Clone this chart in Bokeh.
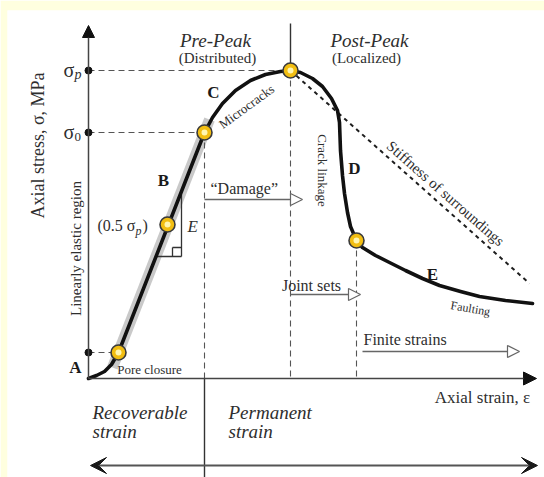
import math
from bokeh.plotting import figure
from bokeh.models import Range1d, Arrow, NormalHead, VeeHead
from bokeh.core.properties import value
from bokeh.embed import file_html
from bokeh.resources import INLINE

# ---- data (strain, stress in diagram units; origin at axes crossing) ----
curve_strain = [0, 8, 16, 23, 30, 116, 124, 134, 147, 162, 177, 192, 202, 212, 224, 234, 243,
                249, 251, 252, 254, 256, 259, 262, 268, 274, 287, 301, 317, 334, 351, 372, 391, 417, 444]
curve_stress = [0, 3, 7, 14, 26, 246, 261, 275, 288, 298, 304, 307, 308, 306, 300, 292, 280,
                268, 256, 228, 203, 185, 166, 152, 138, 131, 123, 116, 108, 100, 93, 87, 82, 78, 75]

key_strain = [30, 79, 116, 202, 268]
key_stress = [26, 154, 246, 308, 138]

sigma_p = 308
sigma_0 = 246
sigma_pc = 26
eps_0 = 116
eps_p = 202
eps_d = 268

band_strain = [24, 121]
band_stress = [11, 259]

stiff_strain = [202, 441]
stiff_stress = [308, 95]

axis_top = 353
axis_right = 448
bottom_y = -99

YELLOW = "#FFFFDF"
FONT = value("Liberation Serif")
TXT = "#2e2e2e"

p = figure(width=544, height=477, output_backend="svg", toolbar_location=None,
           x_axis_type=None, y_axis_type=None,
           x_range=Range1d(-81, 456), y_range=Range1d(-99, 368),
           min_border_left=7, min_border_top=10, min_border_right=0, min_border_bottom=0)
p.grid.visible = False
p.outline_line_color = None
p.background_fill_color = "white"
p.border_fill_color = YELLOW

# grey band along linear part
p.line(band_strain, band_stress, line_width=11, color="#c9c9c9", line_cap="butt")

# dashed guide lines
gx = [[0, eps_p], [0, eps_0], [0, key_strain[0]], [eps_0, eps_0], [eps_p, eps_p], [eps_d, eps_d]]
gy = [[sigma_p, sigma_p], [sigma_0, sigma_0], [sigma_pc, sigma_pc], [sigma_0, 0], [sigma_p, 0], [key_stress[4], 0]]
p.multi_line(gx, gy, line_dash="6 4", line_color="#555555", line_width=1.1)

# stiffness of surroundings
p.line(stiff_strain, stiff_stress, line_dash="4 4", line_color="#1e1e1e", line_width=2)

# solid thin lines: peak marker and divider below axis
p.multi_line([[eps_p, eps_p], [eps_0, eps_0]], [[sigma_p, axis_top + 2], [0, bottom_y]],
             line_color="#333333", line_width=1.4)

# axes with arrowheads
p.add_layout(Arrow(end=NormalHead(size=12, fill_color="#111111", line_color="#111111"),
                   x_start=0, y_start=0, x_end=0, y_end=axis_top,
                   line_color="#444444", line_width=1.5))
p.add_layout(Arrow(end=NormalHead(size=13, fill_color="#111111", line_color="#111111"),
                   x_start=0, y_start=0, x_end=axis_right, y_end=0,
                   line_color="#444444", line_width=1.5))

# E triangle
tri_x = [[93, 93], [68, 93], [84, 84], [84, 93]]
tri_y = [[122, 184], [122, 122], [122, 131], [131, 131]]
p.multi_line(tri_x, tri_y, line_color="#333333", line_width=1.3)

# main curve
p.line(curve_strain, curve_stress, line_width=3.6, color="#111111", line_join="round", line_cap="round")

# axis dots
p.scatter([0, 0, 0], [sigma_p, sigma_0, sigma_pc], size=7, color="#111111")

# key points
p.scatter(key_strain, key_stress, size=15, fill_color="#F2BE12", line_color="#3a3a3a", line_width=1.6)
p.scatter(key_strain, key_stress, size=6, fill_color="#FFF6B0", line_color=None)

# open-head arrows
for xs, xe, yy in [(eps_0, 214, 179), (eps_p, 272, 84), (274, 431, 27)]:
    p.add_layout(Arrow(end=NormalHead(size=12, fill_color="white", line_color="#666666", line_width=1.2),
                       x_start=xs, y_start=yy, x_end=xe, y_end=yy,
                       line_color="#666666", line_width=1.3))

# bottom double arrow
p.add_layout(Arrow(start=VeeHead(size=16, fill_color="#1a1a1a", line_color="#1a1a1a"),
                   end=VeeHead(size=16, fill_color="#1a1a1a", line_color="#1a1a1a"),
                   x_start=2, y_start=-87, x_end=449, y_end=-87,
                   line_color="#555555", line_width=2.2))

# ---- texts ----
def txt(x, y, s, size, style="normal", align="center", angle=0.0, color=TXT):
    p.text(x=[x], y=[y], text=[s], text_font=FONT, text_font_size=value(f"{size}px"),
           text_font_style=style, text_align=align, text_baseline="middle",
           angle=angle, text_color=color)

txt(127, 338, "Pre-Peak", 19, "italic")
txt(129, 321, "(Distributed)", 15)
txt(281, 338, "Post-Peak", 19, "italic")
txt(278, 321, "(Localized)", 15)

txt(-13, 11, "A", 17, "bold", color="#1a1a1a")
txt(75, 198, "B", 17, "bold", color="#1a1a1a")
txt(125, 286, "C", 17, "bold", color="#1a1a1a")
txt(266, 210, "D", 17, "bold", color="#1a1a1a")
txt(344, 104, "E", 17, "bold", color="#1a1a1a")

txt(61, 9, "Pore closure", 13)
txt(158, 272, "Microcracks", 13, angle=0.63)
txt(234, 208, "Crack linkage", 13, angle=-math.pi / 2)
txt(357, 185, "Stiffness of surroundings", 15, angle=-0.72)
txt(382, 70, "Faulting", 12, angle=-0.17)

txt(223, 93, "Joint sets", 16)
txt(275, 39, "Finite strains", 16, align="left")
txt(122, 190, "\u201cDamage\u201d", 16, align="left")

txt(394, -19, "Axial strain, \u03b5", 17)
txt(4, -34, "Recoverable", 19, "italic", align="left")
txt(4, -53, "strain", 19, "italic", align="left")
txt(140, -34, "Permanent", 19, "italic", align="left")
txt(140, -53, "strain", 19, "italic", align="left")

txt(-51, 233, "Axial stress, \u03c3, MPa", 18, angle=math.pi / 2)
txt(-13, 130, "Linearly elastic region", 15, angle=math.pi / 2)

# sigma labels
txt(-25, 309, "\u03c3", 20, align="left")
txt(-14, 304, "p", 14, "italic", align="left")
txt(-25, 247, "\u03c3", 20, align="left")
txt(-14, 242, "0", 13, align="left")

# (0.5 sigma_p) and E
txt(9, 153, "(0.5 \u03c3", 16, align="left")
txt(47, 148, "p", 12, "italic", align="left")
txt(54, 153, ")", 16, align="left")
txt(99, 152, "E", 17, "italic", align="left")

open("out.html", "w").write(file_html(p, INLINE))
